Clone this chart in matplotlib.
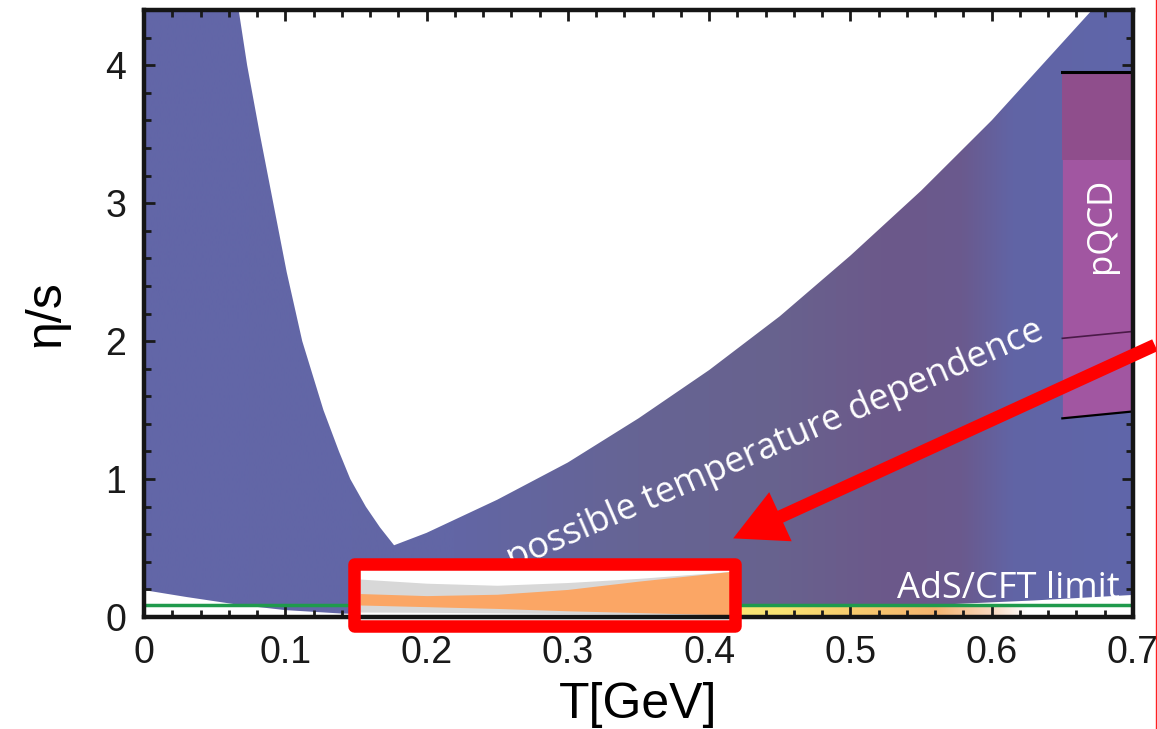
import numpy as np
import matplotlib
matplotlib.use("Agg")
import matplotlib.pyplot as plt
from matplotlib.patches import Polygon, Rectangle, FancyArrow
from matplotlib.lines import Line2D
from matplotlib.transforms import IdentityTransform

# lower edge of the allowed (blue) band
lower_T = [0.0, 0.03, 0.068, 0.1, 0.14, 0.2, 0.3, 0.45, 0.558, 0.63, 0.7]
lower_eta = [0.195, 0.145, 0.087, 0.05, 0.025, 0.01, 0.0, 0.02, 0.087, 0.12, 0.16]

# white excluded region: left branch (top -> minimum) and right branch (minimum -> top)
left_T = [0.067, 0.073, 0.082, 0.0915, 0.101, 0.112, 0.127, 0.138, 0.146, 0.157, 0.167, 0.177]
left_eta = [4.4, 4.0, 3.5, 3.0, 2.5, 2.0, 1.5, 1.2, 1.0, 0.8, 0.65, 0.52]
right_T = [0.177, 0.2, 0.25, 0.3, 0.35, 0.4, 0.45, 0.5, 0.55, 0.6, 0.671]
right_eta = [0.52, 0.61, 0.85, 1.12, 1.44, 1.79, 2.18, 2.62, 3.09, 3.60, 4.40]

# colour of the band along T
band_T = [0.0, 0.22, 0.35, 0.45, 0.53, 0.58, 0.615, 0.7]
band_rgb = [(98, 102, 168), (98, 102, 165), (102, 100, 148), (104, 98, 142),
            (108, 88, 138), (106, 90, 142), (97, 100, 165), (95, 102, 170)]

# lattice-like strip under the KSS line
strip_T = [0.40, 0.45, 0.5, 0.56, 0.6, 0.625]
strip_rgb = [(250, 232, 120), (250, 228, 115), (248, 205, 110), (245, 180, 110),
             (248, 215, 190), (255, 255, 255)]

kss = 0.087

# inset (highlighted box)
inset_T = [0.153, 0.2, 0.25, 0.3, 0.35, 0.415]
grey_hi = [0.275, 0.245, 0.23, 0.25, 0.28, 0.33]
orange_hi = [0.17, 0.155, 0.165, 0.2, 0.26, 0.33]
orange_lo = [0.087, 0.075, 0.062, 0.045, 0.032, 0.015]
grey_lo = [0.036, 0.034, 0.03, 0.025, 0.02, 0.015]

# pQCD box
pqcd_T = [0.65, 0.7]
pqcd_top = 3.95
pqcd_dark = 3.31
pqcd_mid = [2.02, 2.07]
pqcd_bot = [1.44, 1.49]

arrow_tip = (0.417, 0.57)
arrow_tail = (0.7155, 1.97)

plt.rcParams["font.family"] = ["Liberation Sans", "DejaVu Sans"]

fig = plt.figure(figsize=(11.57, 7.29), dpi=100)
ax = fig.add_axes([144 / 1157, 112 / 729, 989 / 1157, 607 / 729])


def gradient(xs, cols, n=400):
    t = np.linspace(xs[0], xs[-1], n)
    arr = np.array(cols, dtype=float) / 255.0
    img = np.stack([np.interp(t, xs, arr[:, k]) for k in range(3)], axis=-1)
    return img[np.newaxis, :, :]


# blue band clipped to its outline
verts = list(zip(lower_T, lower_eta))
verts += [(0.7, 4.4)]
verts += list(zip(right_T[::-1], right_eta[::-1]))
verts += list(zip(left_T[::-1], left_eta[::-1]))
verts += [(0.0, 4.4)]
outline = Polygon(verts, closed=True, facecolor="none", edgecolor="none")
ax.add_patch(outline)
im = ax.imshow(gradient(band_T, band_rgb), extent=[band_T[0], band_T[-1], 0, 4.4],
               aspect="auto", origin="lower", zorder=1, interpolation="bilinear")
im.set_clip_path(outline)

# yellow strip
ax.imshow(gradient(strip_T, strip_rgb), extent=[strip_T[0], strip_T[-1], 0, kss],
          aspect="auto", origin="lower", zorder=1.5, interpolation="bilinear")

ax.axhline(kss, color="#1f9a4c", lw=2.5, zorder=2)

# pQCD
ax.fill_between(pqcd_T, pqcd_bot, [pqcd_top] * 2, color="#a156a1", zorder=3, lw=0)
ax.fill_between(pqcd_T, [pqcd_dark] * 2, [pqcd_top] * 2, color="#8f4e8c", zorder=3, lw=0)
ax.plot(pqcd_T, [pqcd_top] * 2, color="black", lw=2.2, zorder=3.5)
ax.plot(pqcd_T, pqcd_bot, color="black", lw=1.6, zorder=3.5)
ax.plot(pqcd_T, pqcd_mid, color="#4a1a48", lw=1.2, zorder=3.5)
ax.text(0.677, 2.84, "pQCD", rotation=90, color="white", fontsize=25,
        family="Open Sans", ha="center", va="center", zorder=4)

ax.text(0.447, 1.24, "possible temperature dependence", rotation=23.5, color="white",
        fontsize=26, family="Open Sans", ha="center", va="center", zorder=4)
ax.text(0.533, 0.14, "AdS/CFT limit", color="white", fontsize=26,
        family="Open Sans", ha="left", va="baseline", zorder=4)

# inset
ax.add_patch(Rectangle((inset_T[0], 0), inset_T[-1] - inset_T[0], 0.34,
                       facecolor="white", edgecolor="none", zorder=3))
ax.fill_between(inset_T, grey_lo, grey_hi, color="#d8d8d8", lw=0, zorder=3.2)
ax.fill_between(inset_T, orange_lo, orange_hi, color="#fba665", lw=0, zorder=3.3)
ax.add_patch(Rectangle((0.1486, -0.065), 0.418 - 0.1486, 0.384 + 0.065,
                       facecolor="none", edgecolor="#ff0000", lw=9, joinstyle="round",
                       clip_on=False, zorder=10))

ax.set_xlim(0, 0.7)
ax.set_ylim(0, 4.4)
ax.set_xticks(np.arange(0, 0.71, 0.1))
ax.set_xticklabels(["0", "0.1", "0.2", "0.3", "0.4", "0.5", "0.6", "0.7"])
ax.set_yticks([0, 1, 2, 3, 4])
ax.set_xticks(np.arange(0, 0.701, 0.02), minor=True)
ax.set_yticks(np.arange(0, 4.41, 0.2), minor=True)
ax.tick_params(which="both", direction="in", top=True, right=True, width=2,
               colors="#1a1a1a", labelsize=27, pad=13)
ax.tick_params(which="major", length=8)
ax.tick_params(which="minor", length=5)
for s in ax.spines.values():
    s.set_linewidth(3.2)
    s.set_color("#151515")
    s.set_zorder(5)

ax.set_xlabel("T[GeV]", fontsize=36, labelpad=8)
ax.set_ylabel("η/s", fontsize=36, labelpad=26)

# red arrow in pixel space
p0 = ax.transData.transform(arrow_tail)
p1 = ax.transData.transform(arrow_tip)
fig.add_artist(FancyArrow(p0[0], p0[1], p1[0] - p0[0], p1[1] - p0[1], width=13,
                          head_width=54, head_length=52, length_includes_head=True,
                          color="#ff0000", lw=0, transform=IdentityTransform()))
fig.add_artist(Line2D([1155.5 / 1157] * 2, [0, 1], color="#ff2020", lw=1,
                      transform=fig.transFigure))

fig.savefig("out.png", dpi=100)
